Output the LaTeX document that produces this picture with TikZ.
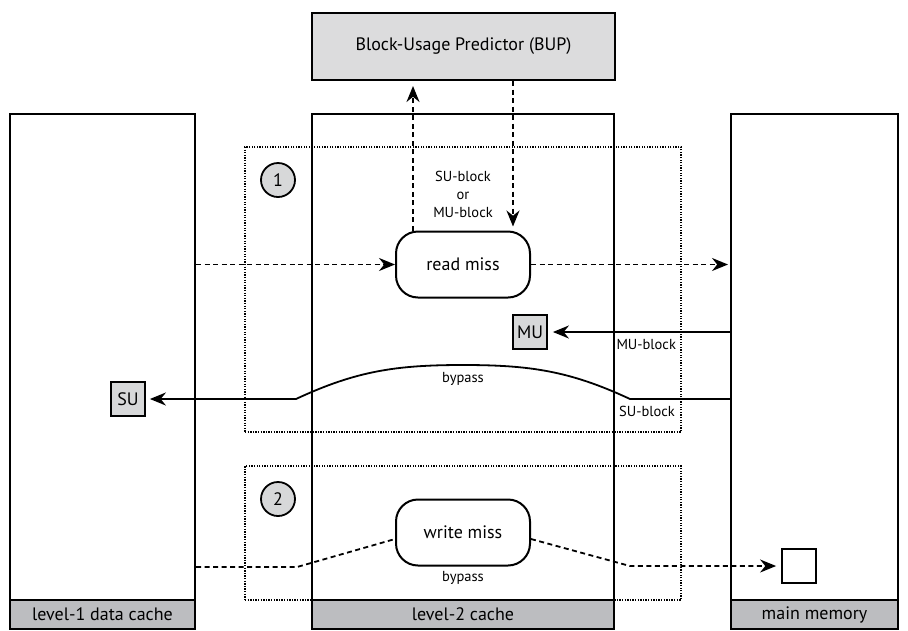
\documentclass[tikz,border=0pt]{standalone}
\usepackage{fontspec}
\setmainfont{PT Sans}
\usetikzlibrary{arrows.meta, positioning}
\definecolor{bupgray}{HTML}{DCDCDD}
\definecolor{bargray}{HTML}{BCBDC0}
\definecolor{tokgray}{HTML}{D7D8D9}
\tikzset{
	column/.style={
			draw=black,
			line width=2pt,
			fill=white,
			inner sep=0pt,
			minimum height=515pt
		},
	colbar/.style={
			draw=black,
			line width=2pt,
			fill=bargray,
			inner sep=0pt,
			minimum height=29pt,
			font=\fontsize{18}{20}\selectfont
		},
	bupnode/.style={
			draw=black,
			line width=2pt,
			fill=bupgray,
			minimum width=303pt,
			minimum height=67pt,
			font=\fontsize{18}{20}\selectfont
		},
	missnode/.style={
			draw=black,
			line width=2pt,
			fill=white,
			rounded corners=22pt,
			minimum width=134pt,
			minimum height=66pt,
			font=\fontsize{18}{20}\selectfont
		},
	tokennode/.style={
			draw=black,
			line width=1.8pt,
			fill=tokgray,
			minimum size=34pt,
			inner sep=0pt,
			font=\fontsize{18}{20}\selectfont
		},
	stepcircle/.style={
			tokennode,
			circle
		},
	phasebox/.style={
			draw=black,
			line width=1.4pt,
			dash pattern=on 1.3pt off 1.3pt
		},
	flowarrow/.style={
			line width=1.8pt,
			dash pattern=on 5pt off 3.5pt,
			-{Stealth[length=16pt, width=13pt]}
		},
	flowline/.style={
			line width=1.8pt,
			dash pattern=on 5pt off 3.5pt
		},
	dataarrow/.style={
			line width=1.8pt,
			-{Stealth[length=16pt, width=13pt]}
		},
	smalllabel/.style={
			font=\fontsize{14.5}{18}\selectfont,
			inner sep=0pt,
			align=center
		}
}

\begin{document}
\begin{tikzpicture}[x=1pt, y=-1pt]
	\useasboundingbox (0,0) rectangle (908,630);

	\node[column, minimum width=185pt] (lone) at (102.5, 371.5) {};
	\node[column, minimum width=302pt] (ltwo) at (463, 371.5) {};
	\node[column, minimum width=167pt] (mem) at (814.5, 371.5) {};
	\node[colbar, minimum width=185pt, anchor=south] (lonebar) at (lone.south) {level-1 data cache};
	\node[colbar, minimum width=302pt, anchor=south] (ltwobar) at (ltwo.south) {level-2 cache};
	\node[colbar, minimum width=167pt, anchor=south] (membar) at (mem.south) {main memory};

	\node[phasebox, minimum width=436pt, minimum height=285pt] (phaseone) at (463, 289.5) {};
	\node[phasebox, minimum width=436pt, minimum height=134pt] (phasetwo) at (463, 533) {};

	\node[bupnode] (bup) at (463.5, 46.5) {Block-Usage Predictor (BUP)};
	\node[stepcircle] (stepone) at (278, 180) {1};
	\node[stepcircle] (steptwo) at (278, 499) {2};
	\node[missnode] (readmiss) at (463, 264.5) {read miss};
	\node[missnode] (writemiss) at (463, 532.5) {write miss};
	\node[tokennode] (mubox) at (530, 332) {MU};
	\node[tokennode] (subox) at (128, 399) {SU};
	\node[tokennode, fill=white] (outbox) at (799, 566) {};

	\coordinate (sur) at (630, 399);
	\coordinate (supeak) at (463, 365);
	\coordinate (sul) at (296, 399);
	\coordinate (wlevel) at (0, 567);
	\coordinate (wl) at (297, 567);
	\coordinate (wr) at (630, 566);

	\draw[flowarrow] (lone.east |- readmiss) -- (readmiss);
	\draw[flowarrow, shorten >=2pt] (readmiss) -- (mem.west |- readmiss);
	\draw[flowarrow, shorten >=5pt] ([xshift=-50pt]readmiss.north) -- ([xshift=-50pt]readmiss.north |- bup.south);
	\draw[flowarrow, shorten >=4pt] ([xshift=50pt]readmiss.north |- bup.south) -- ([xshift=50pt]readmiss.north);
	\node[smalllabel] (query) at (463, 194) {SU-block\\or\\MU-block};

	\draw[dataarrow, shorten >=5pt] (mem.west |- mubox) -- (mubox)
		node[smalllabel, pos=0.46, below=6pt] (mulabel) {MU-block};
	\draw[dataarrow, shorten >=4pt] (mem.west |- subox) -- (sur)
		to[out=155, in=0] (supeak) to[out=180, in=25] (sul) -- (subox);
	\node[smalllabel] (subypass) at (463, 379) {bypass};
	\node[smalllabel] (sulabel) at (647, 411) {SU-block};

	\draw[flowline] (lone.east |- wlevel) -- (wl) -- (writemiss.west |- 0,539);
	\draw[flowarrow, shorten >=5pt] (writemiss.east |- 0,539) -- (wr) -- (outbox);
	\node[smalllabel] (wbypass) at (463, 578) {bypass};
\end{tikzpicture}
\end{document}
